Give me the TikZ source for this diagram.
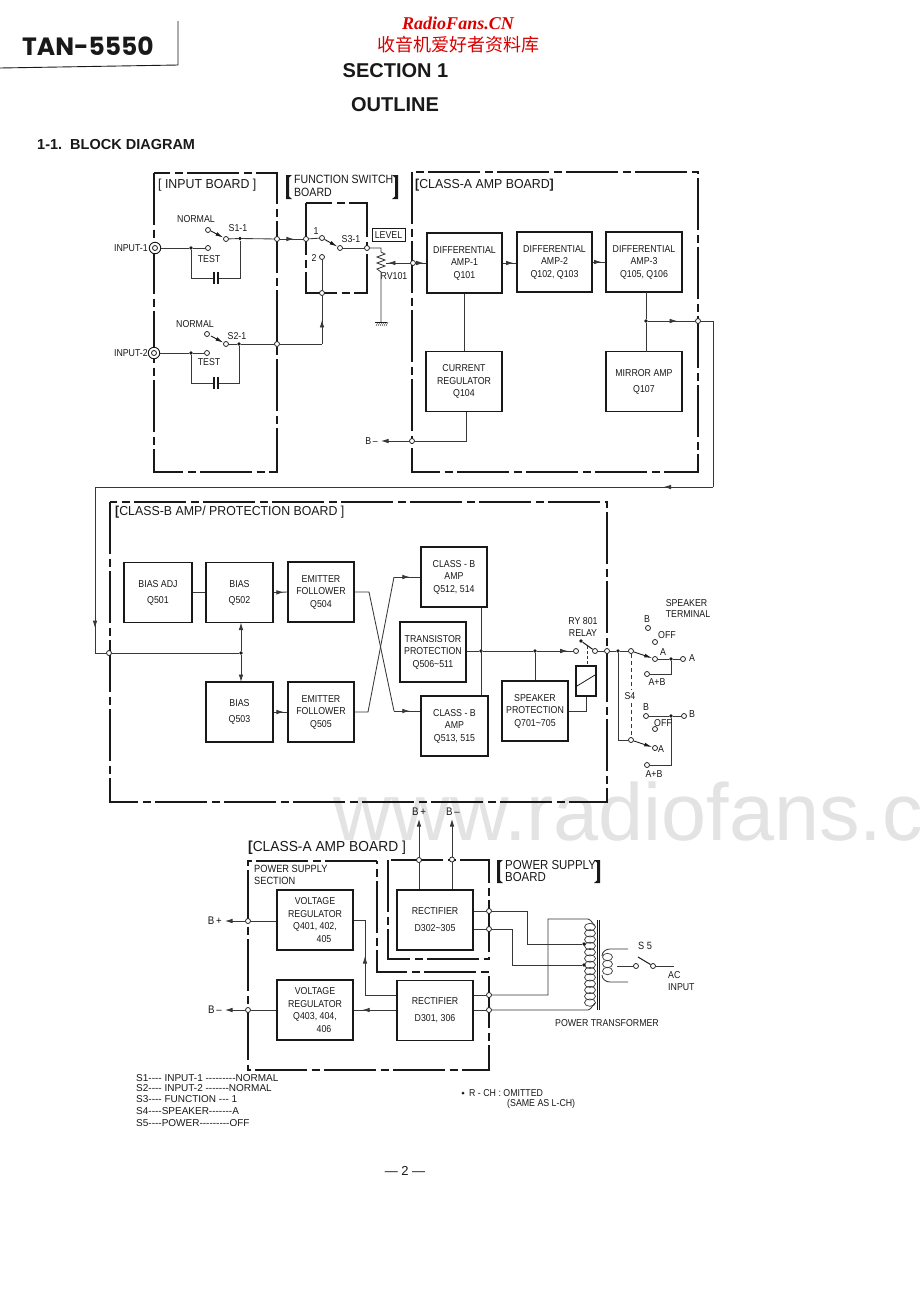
\documentclass[tikz,border=0pt]{standalone}
\usepackage{fontspec}
\setmainfont[FakeStretch=0.88]{Liberation Sans}
\newfontfamily\legf{Liberation Sans}
\newfontfamily\headf{Liberation Sans}
\newfontfamily\ttlf[FakeStretch=0.95]{Liberation Sans}
\newfontfamily\tanf{Poppins}
\newfontfamily\redf{Liberation Serif}
\newfontfamily\cjk{Noto Sans CJK SC}
\usetikzlibrary{arrows.meta,decorations.markings}
\newcommand{\fs}[1]{\fontsize{#1}{#1}\selectfont}
\definecolor{ink}{gray}{0.1}
\definecolor{wiregray}{gray}{0.22}
\tikzset{
  x=1pt,y=-1pt,
  tip/.style={-{Latex[length=7.5pt,width=4.6pt]}},
  board/.style={ink,line width=1.5pt,line join=miter,dash pattern=on 52pt off 4.5pt on 8pt off 4.5pt},
  wire/.style={wiregray,line width=0.85pt},
  blk/.style={draw=ink,line width=1.4pt,fill=white,inner sep=0pt,align=center,text=ink,
    minimum width=75pt,minimum height=60pt,font=\fontsize{10}{12.5}\selectfont},
  opn/.style={circle,draw=ink,fill=white,line width=0.75pt,inner sep=0pt,minimum size=5pt},
  jd/.style={circle,fill=ink,inner sep=0pt,minimum size=3.6pt},
  lb/.style={inner sep=0pt,align=left,text=ink,font=\fontsize{10}{11.5}\selectfont},
  ttl/.style={inner sep=0pt,align=left,text=ink,font=\ttlf\fontsize{13}{13}\selectfont},
  arr/.style={postaction={decorate,decoration={markings,mark=at position #1 with {\arrow{Latex[length=7.5pt,width=4.6pt]}}}}},
  blade/.style={ink,line width=0.9pt,-{Latex[length=8pt,width=3.8pt]}},
  jack/.style={circle,draw=ink,fill=white,line width=0.9pt,inner sep=0pt,minimum size=11.5pt},
  brk/.style={fill=ink,draw=none},
}
% A tall title bracket: x of the spine, top, bottom, direction of the serifs
\newcommand{\tallbrk}[4]{\fill[brk] (#1,#2) -- ++(#4*6,0) -- ++(-#4*3,2.5) -- ++(0,#3-#2-5) -- ++(#4*3,2.5) -- ++(-#4*6,0) -- cycle;}
\begin{document}
\begin{tikzpicture}
\useasboundingbox (0,0) rectangle (920,1299);
\fill[white] (0,0) rectangle (920,1299);

% Site watermark behind the drawing
\begin{scope}
\clip (0,0) rectangle (920,1299);
\node[anchor=base west,inner sep=0pt,text=black!11,font=\headf\fs{81}] (wm) at (333,840) {www.radiofans.c};
\end{scope}

% Page heading
\node[inner sep=0pt,font=\tanf\bfseries\fs{25},text=ink] (model) at (88,46) {TAN-5550};
\draw[ink,line width=0.9pt] (178,21) -- (178,65) -- (0,68);
\node[inner sep=0pt,font=\redf\bfseries\itshape\fs{18},text=red!85!black] (site) at (458,23) {RadioFans.CN};
\node[inner sep=0pt,font=\cjk\fs{18},text=red!85!black] (sitecn) at (458,45) {收音机爱好者资料库};
\node[inner sep=0pt,font=\headf\bfseries\fs{20},text=ink] (sec) at (395.5,71) {SECTION 1};
\node[inner sep=0pt,font=\headf\bfseries\fs{20},text=ink] (out) at (395,105) {OUTLINE};
\node[anchor=west,inner sep=0pt,font=\headf\bfseries\fs{14.5},text=ink] (head) at (37,145) {1-1.\ \ BLOCK DIAGRAM};

% ---- Board outlines ----
\draw[board] (154,173) rectangle (277,472);
\draw[board] (306,203) rectangle (367,293);
\draw[board] (412,172) rectangle (698,472);
\draw[board] (110,502) rectangle (607,802);
\draw[board] (377,861) -- (248,861) -- (248,1070) -- (489,1070) -- (489,972) -- (377,972) -- cycle;
\draw[board] (388,860) rectangle (489,959);

% ---- Board titles ----
\node[ttl,anchor=west] (tin) at (158,185) {[ INPUT BOARD ]};
\tallbrk{286}{175}{199}{1}
\tallbrk{398}{175}{199}{-1}
\node[lb,anchor=west,font=\fontsize{12}{13}\selectfont] (tfn) at (294,186) {FUNCTION SWITCH\\BOARD};
\node[ttl,anchor=west] (tca) at (415,185) {\textbf{[}CLASS-A AMP BOARD\textbf{]}};
\node[ttl,anchor=west] (tcb) at (115,512) {\textbf{[}CLASS-B AMP/ PROTECTION BOARD ]};
\node[ttl,anchor=west,font=\ttlf\fontsize{14.5}{14.5}\selectfont] (tpa) at (248,848) {\textbf{[}CLASS-A AMP BOARD ]};
\node[lb,anchor=west,font=\fontsize{10.5}{11.5}\selectfont] (tps) at (254,875) {POWER SUPPLY\\SECTION};
\tallbrk{497}{860}{883}{1}
\tallbrk{600}{860}{883}{-1}
\node[lb,anchor=west,font=\fontsize{13}{12.5}\selectfont] (tpb) at (505,871) {POWER SUPPLY\\BOARD};

% ---- Blocks ----
\node[blk] (d1) at (464.5,263) {DIFFERENTIAL\\AMP-1\\Q101};
\node[blk] (d2) at (554.5,262) {DIFFERENTIAL\\AMP-2\\Q102, Q103};
\node[blk,minimum width=76pt] (d3) at (644,262) {DIFFERENTIAL\\AMP-3\\Q105, Q106};
\node[blk,minimum width=76pt] (cr) at (464,381.5) {CURRENT\\REGULATOR\\Q104};
\node[blk,minimum width=76pt,font=\fontsize{10}{16}\selectfont] (ma) at (644,381.5) {MIRROR AMP\\Q107};

\node[blk,minimum width=68pt,font=\fontsize{10}{16}\selectfont] (ba) at (158,592.5) {BIAS ADJ\\Q501};
\node[blk,minimum width=67pt,font=\fontsize{10}{16}\selectfont] (b2) at (239.5,592.5) {BIAS\\Q502};
\node[blk,minimum width=66pt] (e4) at (321,592) {EMITTER\\FOLLOWER\\Q504};
\node[blk,minimum width=67pt,font=\fontsize{10}{16}\selectfont] (b3) at (239.5,712) {BIAS\\Q503};
\node[blk,minimum width=66pt] (e5) at (321,712) {EMITTER\\FOLLOWER\\Q505};
\node[blk,minimum width=66pt] (c1) at (454,577) {CLASS - B\\AMP\\Q512, 514};
\node[blk,minimum width=66pt] (tp) at (433,652) {TRANSISTOR\\PROTECTION\\Q506\textasciitilde 511};
\node[blk,minimum width=67pt] (c2) at (454.5,726) {CLASS - B\\AMP\\Q513, 515};
\node[blk,minimum width=66pt] (sp) at (535,711) {SPEAKER\\PROTECTION\\Q701\textasciitilde 705};
\node[blk,minimum width=20pt,minimum height=30pt] (ry) at (586,681) {};
\draw[ink,line width=0.8pt] (577,686) -- (595,675);

\node[blk,minimum width=76pt,align=center] (v1) at (315,920) {VOLTAGE\\REGULATOR\\Q401, 402,\\\hspace*{18pt}405};
\node[blk,minimum width=76pt] (v2) at (315,1010) {VOLTAGE\\REGULATOR\\Q403, 404,\\\hspace*{18pt}406};
\node[blk,minimum width=76pt,font=\fontsize{10}{17}\selectfont] (r1) at (435,920) {RECTIFIER\\D302\textasciitilde 305};
\node[blk,minimum width=76pt,font=\fontsize{10}{17}\selectfont] (r2) at (435,1010.5) {RECTIFIER\\D301, 306};

% ---- Input board ----
\node[jack] (j1) at (155,248) {};
\node[circle,draw=ink,line width=0.8pt,inner sep=0pt,minimum size=5pt] (j1i) at (155,248) {};
\node[jack] (j2) at (154,353) {};
\node[circle,draw=ink,line width=0.8pt,inner sep=0pt,minimum size=5pt] (j2i) at (154,353) {};
\node[lb,anchor=east] (li1) at (148,248) {INPUT-1};
\node[lb,anchor=east] (li2) at (148,353) {INPUT-2};
\node[lb] (ln1) at (196,219) {NORMAL};
\node[lb] (ln2) at (195,324) {NORMAL};
\node[lb] (ls1) at (238,228) {S1-1};
\node[lb] (ls2) at (237,336) {S2-1};
\node[lb] (lt1) at (209,259) {TEST};
\node[lb] (lt2) at (209,362) {TEST};

\node[opn] (n1) at (208,230) {};
\node[opn] (t1) at (208,248) {};
\node[opn] (c1a) at (226,239) {};
\node[jd] (d1a) at (240,238.5) {};
\node[jd] (d1b) at (191,248) {};
\node[opn] (e1) at (277,239) {};
\coordinate (cb1) at (191,278);
\coordinate (cb2) at (240,278);
\coordinate (cl1) at (214,278);
\coordinate (cr1) at (218,278);
\draw[wire] (j1) -- (d1b) -- (t1);
\draw[wire] (d1b) -- (cb1) -- (cl1);
\draw[wire] (cr1) -- (cb2) -- (d1a);
\draw[ink,line width=1.4pt] (214,272) -- (214,284) (218,272) -- (218,284);
\draw[wire] (c1a) -- (d1a) -- (e1);
\draw[blade] (c1a) ++(-15,-8) -- (c1a);

\node[opn] (n2) at (207,334) {};
\node[opn] (t2) at (207,353) {};
\node[opn] (c2a) at (226,344) {};
\node[jd] (d2a) at (239,344) {};
\node[jd] (d2b) at (191,353) {};
\node[opn] (e2) at (277,344) {};
\coordinate (cb3) at (191,383);
\coordinate (cb4) at (239,383);
\coordinate (cl2) at (214,383);
\coordinate (cr2) at (218,383);
\draw[wire] (j2) -- (d2b) -- (t2);
\draw[wire] (d2b) -- (cb3) -- (cl2);
\draw[wire] (cr2) -- (cb4) -- (d2a);
\draw[ink,line width=1.4pt] (214,377) -- (214,389) (218,377) -- (218,389);
\draw[wire] (c2a) -- (d2a) -- (e2);
\draw[blade] (c2a) ++(-15,-8) -- (c2a);

% ---- Function switch board and level control ----
\node[opn] (f1) at (306,239) {};
\node[opn] (f2) at (322,257) {};
\node[opn] (f3) at (322,293) {};
\node[opn] (fa) at (322,238) {};
\node[opn] (fb) at (340,248) {};
\node[opn] (fo) at (367,248) {};
\node[lb] (l1) at (316,231) {1};
\node[lb] (l2) at (314,258) {2};
\node[lb] (ls3) at (351,239) {S3-1};
\draw[wire,arr=0.6] (e1) -- (f1);
\draw[wire] (f1) -- (fa);
\draw[blade] (fa) -- (fb);
\draw[wire] (fb) -- (fo);
\draw[wire] (f2) -- (f3);
\coordinate (fe) at (322,344);
\draw[wire,arr=0.5] (fe) -- (f3);
\draw[wire] (e2) -- (fe);

\node[lb,draw=ink,line width=0.6pt,minimum width=33pt,minimum height=13pt,align=center] (lv) at (388.5,235) {LEVEL};
\node[lb] (lrv) at (394,276) {RV101};
\coordinate (rt) at (381,248);
\coordinate (rb) at (381,322);
\draw[wire] (fo) -- (rt) -- (381,252) -- (385,254) -- (377,257) -- (385,260) -- (377,263) -- (385,266) -- (377,269) -- (381,272) -- (rb);
\draw[ink,line width=0.8pt] (375,322) -- (387,322);
\foreach \hx in {376,378,...,386}{\draw[ink,line width=0.4pt] (\hx,326) -- (\hx+2,322);}
\node[opn] (w) at (413,263) {};
\coordinate (wi) at (385.5,263);
\draw[wire,arr=0.9] (w) -- (wi);
\draw[wire,arr=0.75] (w) -- (d1.west |- w);

% ---- Class-A amp board ----
\draw[wire,arr=0.8] (d1.east |- 0,263) -- (d2.west |- 0,263);
\draw[wire,arr=0.7] (d2.east) -- (d3.west);
\draw[wire] (d1.south -| cr.north) -- (cr.north);
\node[jd] (oj) at (646,321) {};
\node[opn] (oo) at (698,321) {};
\coordinate (d3b) at (646,292);
\coordinate (mat) at (646,351.5);
\draw[wire] (d3b) -- (oj) -- (mat);
\draw[wire,arr=0.62] (oj) -- (oo);
\node[opn] (bm) at (412,441) {};
\node[lb,anchor=east] (lbm) at (378,441) {B\,--};
\coordinate (bmt) at (381,441);
\coordinate (crb) at (466,441);
\draw[wire,tip] (bm) -- (bmt);
\draw[wire] (bm) -- (crb) -- (466,411.5);

% Link from the class-A output down to the class-B bias chain
\coordinate (k1) at (713,321);
\coordinate (k2) at (713,487);
\coordinate (k3) at (95,487);
\coordinate (k4) at (95,653);
\node[opn] (in) at (109,653) {};
\draw[wire] (oo) -- (k1) -- (k2);
\draw[wire,arr=0.08] (k2) -- (k3);
\draw[wire,arr=0.85] (k3) -- (k4);
\draw[wire] (k4) -- (in);

% ---- Class-B amp / protection board ----
\node[jd] (bj) at (241,653) {};
\draw[wire] (in) -- (bj);
\draw[wire,tip] (bj) -- (241,622.5);
\draw[wire,tip] (bj) -- (241,682);
\draw[wire] (ba.east) -- (b2.west);
\draw[wire,arr=0.75] (b2.east) -- (e4.west);
\draw[wire,arr=0.75] (b3.east) -- (e5.west);
\coordinate (x1) at (369,592);
\coordinate (x2) at (394,711);
\coordinate (x3) at (368,712);
\coordinate (x4) at (394,577);
\draw[wire] (e4.east) -- (x1) -- (x2);
\draw[wire,arr=0.6] (x2) -- (c2.west |- x2);
\draw[wire] (e5.east) -- (x3) -- (x4);
\draw[wire,arr=0.6] (x4) -- (c1.west);

\node[jd] (m1) at (481,651) {};
\node[jd] (m2) at (535,651) {};
\draw[wire] (c1.south -| m1) -- (c2.north -| m1);
\draw[wire] (tp.east |- m1) -- (m1) -- (m2);
\draw[wire] (m2) -- (sp.north -| m2);
\node[opn] (ra) at (576,651) {};
\node[opn] (rc) at (595,651) {};
\node[opn] (ro) at (607,651) {};
\node[jd] (s0) at (618,651) {};
\node[opn] (sa) at (631,651) {};
\draw[wire,arr=0.85] (m2) -- (ra);
\draw[wire] (rc) -- (ro) -- (s0) -- (sa);
\node[jd] (rk) at (581,641) {};
\draw[ink,line width=1pt] (rk) -- (rc);
\draw[wire,dash pattern=on 3pt off 2pt] (587,646) -- (ry.north -| 587,0);
\coordinate (spr) at (586,711);
\draw[wire] (sp.east |- spr) -- (spr) -- (ry.south -| spr);
\node[lb,align=center] (lry) at (583,627) {RY 801\\RELAY};
\node[lb] (lst) at (688,608.5) {SPEAKER\\TERMINAL};

% Speaker selector S4
\node[opn] (b1) at (648,628) {};
\node[opn] (of1) at (655,642) {};
\node[opn] (a1) at (655,659) {};
\node[opn] (ab1) at (647,674) {};
\node[jd] (ad) at (671,659) {};
\node[opn] (ao) at (683,659) {};
\draw[wire] (a1) -- (ad) -- (ao);
\coordinate (ab1c) at (671,674);
\draw[wire] (ab1) -- (ab1c) -- (ad);
\draw[blade] (sa) -- (a1);
\node[opn] (sb) at (631,740) {};
\coordinate (sbc) at (618,740);
\draw[wire] (s0) -- (sbc) -- (sb);
\node[opn] (a2) at (655,748) {};
\draw[blade] (sb) -- (a2);
\node[opn] (b2o) at (646,716) {};
\node[opn] (of2) at (655,729) {};
\node[opn] (ab2) at (647,765) {};
\node[jd] (bd) at (671,716) {};
\node[opn] (bo) at (684,716) {};
\draw[wire] (b2o) -- (bd) -- (bo);
\coordinate (ab2c) at (671,765);
\draw[wire] (ab2) -- (ab2c) -- (bd);
\draw[wire,dash pattern=on 4pt off 3pt] (sa) -- (631,689);
\draw[wire,dash pattern=on 4pt off 3pt] (631,703) -- (sb);
\node[lb] (ls4) at (630,696) {S4};
\node[lb] (lb1) at (647,619) {B};
\node[lb] (lof1) at (667,635) {OFF};
\node[lb] (la1) at (663,652) {A};
\node[lb] (lao) at (692,658.5) {A};
\node[lb] (lab1) at (657,682) {A+B};
\node[lb] (lb2) at (646,707) {B};
\node[lb] (lof2) at (663,723) {OFF};
\node[lb] (lbo) at (692,714) {B};
\node[lb] (la2) at (661,749) {A};
\node[lb] (lab2) at (654,774) {A+B};

% ---- Power section ----
\node[opn] (pp) at (248,921) {};
\node[opn] (pm) at (248,1010) {};
\node[lb,anchor=east,font=\fontsize{11}{11}\selectfont] (lpp) at (222,921) {B\,+};
\node[lb,anchor=east,font=\fontsize{11}{11}\selectfont] (lpm) at (222,1010) {B\,--};
\coordinate (ppt) at (225,921);
\coordinate (pmt) at (225,1010);
\draw[wire,tip] (pp) -- (ppt);
\draw[wire,tip] (pm) -- (pmt);
\draw[wire] (pp) -- (v1.west |- pp);
\draw[wire] (pm) -- (v2.west);
\coordinate (vr1) at (365,920);
\coordinate (vr2) at (365,995);
\draw[wire] (v1.east) -- (vr1);
\draw[wire,arr=0.52] (vr2) -- (vr1);
\draw[wire] (vr2) -- (r2.west |- vr2);
\draw[wire,arr=0.8] (r2.west |- v2) -- (v2.east);

\node[opn] (tp1) at (419,860) {};
\node[opn] (tp2) at (452,859.5) {};
\node[lb,font=\fontsize{11}{11}\selectfont] (lbp) at (419,812) {B\,+};
\node[lb,font=\fontsize{11}{11}\selectfont] (lbq) at (453,812) {B\,--};
\coordinate (tp1e) at (419,819);
\coordinate (tp2e) at (452,819);
\draw[wire,tip] (tp1) -- (tp1e);
\draw[wire,tip] (tp2) -- (tp2e);
\draw[wire] (tp1) -- (r1.north -| tp1);
\draw[wire] (tp2) -- (r1.north -| tp2);

\node[opn] (q1) at (489,911) {};
\node[opn] (q2) at (489,929) {};
\node[opn] (q3) at (489,995) {};
\node[opn] (q4) at (489,1010) {};
\draw[wire] (r1.east |- q1) -- (q1);
\draw[wire] (r1.east |- q2) -- (q2);
\draw[wire] (r2.east |- q3) -- (q3);
\draw[wire] (r2.east |- q4) -- (q4);

% Power transformer with its windings
\foreach \wy in {927,933.3,...,1004}{\draw[wiregray,line width=0.7pt] (590,\wy) ellipse (5.5 and 3.7);}
\foreach \wy in {957,964,971}{\draw[wiregray,line width=0.7pt] (607.5,\wy) ellipse (5 and 3.7);}
\draw[ink,line width=0.8pt] (597,920) -- (597,1010) (599.5,920) -- (599.5,1010);
\node[jd] (tap1) at (584,944) {};
\node[jd] (tap2) at (584,965) {};
\coordinate (y1) at (527,911);
\coordinate (y2) at (527,944);
\coordinate (y3) at (512,929);
\coordinate (y4) at (512,965);
\coordinate (y5) at (548,995);
\coordinate (y6) at (548,919);
\draw[wire] (q1) -- (y1) -- (y2) -- (tap1);
\draw[wire] (q2) -- (y3) -- (y4) -- (tap2);
\draw[wire] (q3) -- (y5) -- (y6) -- (588,919) to[out=0,in=-90] (595,925);
\draw[wire] (q4) -- (588,1010) to[out=0,in=90] (595,1004);
\draw[wire] (628,949) -- (610,949) to[out=180,in=90] (602,956);
\draw[wire] (628,982) -- (610,982) to[out=180,in=-90] (602,975);
\node[opn] (sw1) at (636,966) {};
\node[opn] (sw2) at (653,966) {};
\coordinate (swl) at (617,966);
\coordinate (swr) at (674,966);
\draw[wire] (swl) -- (sw1);
\draw[wire] (sw2) -- (swr);
\draw[ink,line width=1pt] (638,957) -- (sw2);
\node[lb,font=\fontsize{10.5}{11}\selectfont] (ls5) at (645,946) {S 5};
\node[lb,anchor=west] (lac) at (668,981) {AC\\INPUT};
\node[lb] (lpt) at (607,1023) {POWER TRANSFORMER};

% ---- Switch positions and notes ----
\tikzset{legend/.style={anchor=west,inner sep=0pt,text=ink,font=\legf\fs{10}}}
\node[legend] (s1n) at (136,1078) {S1---- INPUT-1 ---------NORMAL};
\node[legend] (s2n) at (136,1088) {S2---- INPUT-2 -------NORMAL};
\node[legend] (s3n) at (136,1099) {S3---- FUNCTION --- 1};
\node[legend] (s4n) at (136,1111) {S4----SPEAKER-------A};
\node[legend] (s5n) at (136,1123) {S5----POWER---------OFF};
\node[jd,minimum size=3pt] (bul) at (463,1093) {};
\node[lb,anchor=west] (rch) at (469,1093) {R - CH : OMITTED};
\node[lb,anchor=west] (rch2) at (507,1104) {(SAME AS L-CH)};
\node[inner sep=0pt,text=ink,font=\headf\fs{13}] (pg) at (405,1171) {— 2 —};
\end{tikzpicture}
\end{document}
